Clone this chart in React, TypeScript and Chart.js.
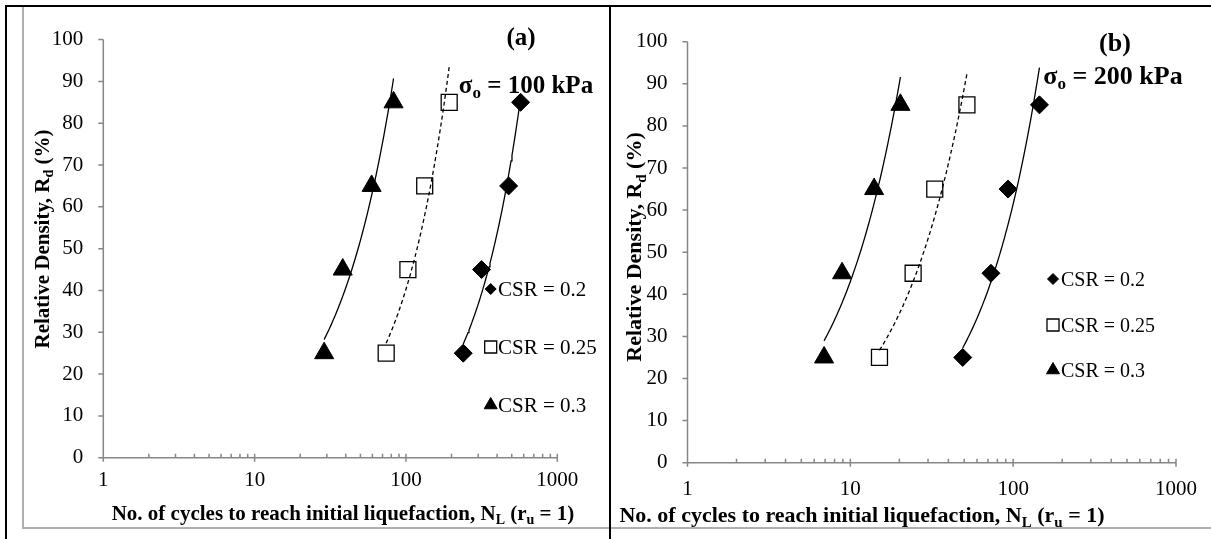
import React, { useEffect, useRef } from 'react';
import { Chart, registerables } from 'chart.js';
import { drawPoint } from 'chart.js/helpers';

Chart.register(...registerables);

// Relative density levels tested (%)
const relativeDensity = [25, 45, 65, 85];

// Panel (a), σo = 100 kPa : number of cycles to initial liquefaction N_L
const panelA_csr020 = [239, 316, 477, 572];
const panelA_csr025 = [74, 103, 133, 193];
const panelA_csr030 = [28.8, 38.2, 59.3, 82.8];

// Panel (b), σo = 200 kPa
const panelB_csr020 = [49, 73, 93, 145];
const panelB_csr025 = [15.1, 24.3, 33, 52];
const panelB_csr030 = [6.9, 8.9, 14, 20.3];

const seriesLabels = ['CSR = 0.2', 'CSR = 0.25', 'CSR = 0.3'];
const xMajorTicks = [1, 10, 100, 1000];
const yTickValues = [0, 10, 20, 30, 40, 50, 60, 70, 80, 90, 100];
const panelTags = ['(a)', '(b)'];
const panelStress = ['100 kPa', '200 kPa'];

const FONT = '"Liberation Serif", "Times New Roman", Times, serif';
const AXIS_COLOR = '#878787';

type Part = { t: string; sub?: boolean };

const xTitleParts: Part[] = [
  { t: 'No. of cycles to reach initial liquefaction, N' },
  { t: 'L', sub: true },
  { t: ' (r' },
  { t: 'u', sub: true },
  { t: ' = 1)' },
];
const yTitleParts: Part[] = [
  { t: 'Relative Density, R' },
  { t: 'd', sub: true },
  { t: ' (%)' },
];

function partFont(size: number, bold: boolean, sub?: boolean) {
  return `${bold ? 'bold ' : ''}${sub ? Math.round(size * 0.66) : size}px ${FONT}`;
}
function measureRich(ctx: CanvasRenderingContext2D, parts: Part[], size: number, bold: boolean) {
  let w = 0;
  for (const p of parts) {
    ctx.font = partFont(size, bold, p.sub);
    w += ctx.measureText(p.t).width;
  }
  return w;
}
function drawRich(
  ctx: CanvasRenderingContext2D,
  parts: Part[],
  x: number,
  cy: number,
  size: number,
  bold: boolean,
  align: 'center' | 'left'
) {
  const w = measureRich(ctx, parts, size, bold);
  let cx = align === 'center' ? x - w / 2 : x;
  const base = cy + size * 0.33;
  ctx.textBaseline = 'alphabetic';
  ctx.textAlign = 'left';
  for (const p of parts) {
    ctx.font = partFont(size, bold, p.sub);
    ctx.fillText(p.t, cx, p.sub ? base + size * 0.2 : base);
    cx += ctx.measureText(p.t).width;
  }
}

// Excel-style power trendline (least squares on ln y vs ln x), over the data's x range
function powerTrend(xs: number[], ys: number[]) {
  const n = xs.length;
  const lx = xs.map(Math.log);
  const ly = ys.map(Math.log);
  const mx = lx.reduce((a, b) => a + b, 0) / n;
  const my = ly.reduce((a, b) => a + b, 0) / n;
  let sxy = 0;
  let sxx = 0;
  for (let i = 0; i < n; i++) {
    sxy += (lx[i] - mx) * (ly[i] - my);
    sxx += (lx[i] - mx) * (lx[i] - mx);
  }
  const b = sxy / sxx;
  const a = Math.exp(my - b * mx);
  const l0 = Math.log(Math.min(...xs));
  const l1 = Math.log(Math.max(...xs));
  const pts: { x: number; y: number }[] = [];
  const steps = 60;
  for (let i = 0; i <= steps; i++) {
    const x = Math.exp(l0 + ((l1 - l0) * i) / steps);
    pts.push({ x, y: a * Math.pow(x, b) });
  }
  return pts;
}

interface PanelCfg {
  left: number;
  top: number;
  w: number;
  h: number;
  plotLeft: number;
  plotRight: number;
  plotTop: number;
  plotBottom: number;
  series: number[][];
  tag: string;
  stress: string;
  tickSize: number;
  tickPadX: number;
  titleSize: number;
  xTitle: [number, number];
  yTitle: [number, number];
  tagPos: [number, number];
  sigmaPos: [number, number];
  annSize: number;
  legendX: number;
  legendTextX: number;
  legendYs: number[];
  legendSize: number;
}

const markerStyles = [
  { pointStyle: 'rectRot', radius: 9, bg: '#000', border: '#000', bw: 1, lRadius: 5.5 },
  { pointStyle: 'rect', radius: 11.3, bg: '#fff', border: '#000', bw: 1.3, lRadius: 8.5 },
  { pointStyle: 'triangle', radius: 11, bg: '#000', border: '#000', bw: 1, lRadius: 7.5 },
];
const trendDash = [[], [4, 3], []];

const panelA: PanelCfg = {
  left: 24, top: 7, w: 585, h: 520,
  plotLeft: 79.3, plotRight: 533.3, plotTop: 27, plotBottom: 450.7,
  series: [panelA_csr020, panelA_csr025, panelA_csr030],
  tag: panelTags[0], stress: panelStress[0],
  tickSize: 21, tickPadX: 10.5, titleSize: 21,
  xTitle: [319, 506], yTitle: [18, 232],
  tagPos: [497, 30], sigmaPos: [502, 78], annSize: 25,
  legendX: 466.7, legendTextX: 474, legendYs: [282, 340, 398], legendSize: 21,
};

const panelB: PanelCfg = {
  left: 611, top: 7, w: 600, h: 520,
  plotLeft: 76.5, plotRight: 570, plotTop: 34.7, plotBottom: 455.7,
  series: [panelB_csr020, panelB_csr025, panelB_csr030],
  tag: panelTags[1], stress: panelStress[1],
  tickSize: 21, tickPadX: 14, titleSize: 22,
  xTitle: [251, 508], yTitle: [23, 240],
  tagPos: [504, 35], sigmaPos: [502, 68], annSize: 26,
  legendX: 442, legendTextX: 450, legendYs: [272, 318, 363], legendSize: 20,
};

function makeDecor(cfg: PanelCfg) {
  return {
    id: 'panelDecor',
    afterDraw(chart: any) {
      const ctx: CanvasRenderingContext2D = chart.ctx;
      const { left, right, top, bottom } = chart.chartArea;
      const xs = chart.scales.x;
      const ys = chart.scales.y;
      ctx.save();
      // axes
      ctx.strokeStyle = AXIS_COLOR;
      ctx.lineWidth = 1.5;
      ctx.beginPath();
      ctx.moveTo(left, top);
      ctx.lineTo(left, bottom);
      ctx.moveTo(left, bottom);
      ctx.lineTo(right, bottom);
      for (const v of yTickValues) {
        const py = ys.getPixelForValue(v);
        ctx.moveTo(left - 5, py);
        ctx.lineTo(left, py);
      }
      for (let d = 0; d < xMajorTicks.length; d++) {
        const dec = xMajorTicks[d];
        const px = xs.getPixelForValue(dec);
        ctx.moveTo(px, bottom - 4);
        ctx.lineTo(px, bottom + 4);
        if (d < xMajorTicks.length - 1) {
          for (let k = 2; k <= 9; k++) {
            const mx = xs.getPixelForValue(dec * k);
            ctx.moveTo(mx, bottom - 4);
            ctx.lineTo(mx, bottom);
          }
        }
      }
      ctx.stroke();

      ctx.fillStyle = '#000';
      // axis titles
      drawRich(ctx, xTitleParts, cfg.xTitle[0], cfg.xTitle[1], cfg.titleSize, true, 'center');
      ctx.save();
      ctx.translate(cfg.yTitle[0], cfg.yTitle[1]);
      ctx.rotate(-Math.PI / 2);
      drawRich(ctx, yTitleParts, 0, 0, cfg.titleSize, true, 'center');
      ctx.restore();

      // annotations
      drawRich(ctx, [{ t: cfg.tag }], cfg.tagPos[0], cfg.tagPos[1], cfg.annSize, true, 'center');
      drawRich(
        ctx,
        [{ t: 'σ' }, { t: 'o', sub: true }, { t: ' = ' + cfg.stress }],
        cfg.sigmaPos[0],
        cfg.sigmaPos[1],
        cfg.annSize,
        true,
        'center'
      );

      // legend (marker series only)
      for (let i = 0; i < 3; i++) {
        const ds = chart.data.datasets[3 + i];
        const st = markerStyles[i];
        ctx.fillStyle = st.bg;
        ctx.strokeStyle = st.border;
        ctx.lineWidth = st.bw;
        drawPoint(
          ctx,
          { pointStyle: st.pointStyle as any, radius: st.lRadius, rotation: 0, borderWidth: st.bw },
          cfg.legendX,
          cfg.legendYs[i]
        );
        ctx.fillStyle = '#000';
        drawRich(ctx, [{ t: ds.label }], cfg.legendTextX, cfg.legendYs[i], cfg.legendSize, false, 'left');
      }
      ctx.restore();
    },
  };
}

function buildConfig(cfg: PanelCfg): any {
  const trendSets = cfg.series.map((ns, i) => ({
    label: 'trend ' + seriesLabels[i],
    data: powerTrend(ns, relativeDensity),
    showLine: true,
    borderColor: '#000',
    borderWidth: 1.3,
    borderDash: trendDash[i],
    pointRadius: 0,
    pointHoverRadius: 0,
    fill: false,
    tension: 0,
  }));
  const markerSets = cfg.series.map((ns, i) => ({
    label: seriesLabels[i],
    data: ns.map((n, j) => ({ x: n, y: relativeDensity[j] })),
    showLine: false,
    pointStyle: markerStyles[i].pointStyle,
    pointRadius: markerStyles[i].radius,
    pointHoverRadius: markerStyles[i].radius,
    pointBackgroundColor: markerStyles[i].bg,
    pointBorderColor: markerStyles[i].border,
    pointBorderWidth: markerStyles[i].bw,
  }));
  return {
    type: 'scatter',
    data: { datasets: [...trendSets, ...markerSets] },
    options: {
      animation: false,
      responsive: false,
      devicePixelRatio: 1,
      events: [],
      layout: {
        padding: { left: 0, top: cfg.plotTop, right: cfg.w - cfg.plotRight, bottom: 0 },
      },
      plugins: {
        legend: { display: false },
        tooltip: { enabled: false },
        title: { display: false },
      },
      scales: {
        x: {
          type: 'logarithmic',
          min: 1,
          max: 1000,
          position: 'bottom',
          afterBuildTicks: (s: any) => {
            s.ticks = xMajorTicks.map((v) => ({ value: v }));
          },
          afterFit: (s: any) => {
            s.height = cfg.h - cfg.plotBottom;
          },
          grid: { display: false, drawTicks: false },
          border: { display: false },
          ticks: {
            autoSkip: false,
            maxRotation: 0,
            padding: cfg.tickPadX,
            color: '#000',
            font: { family: FONT, size: cfg.tickSize },
            callback: (v: any) => String(v),
          },
        },
        y: {
          type: 'linear',
          min: 0,
          max: 100,
          position: 'left',
          afterBuildTicks: (s: any) => {
            s.ticks = yTickValues.map((v) => ({ value: v }));
          },
          afterFit: (s: any) => {
            s.width = cfg.plotLeft;
          },
          grid: { display: false, drawTicks: false },
          border: { display: false },
          ticks: {
            autoSkip: false,
            padding: 20,
            color: '#000',
            font: { family: FONT, size: cfg.tickSize },
            callback: (v: any) => String(v),
          },
        },
      },
    },
    plugins: [makeDecor(cfg)],
  };
}

function Panel({ cfg }: { cfg: PanelCfg }) {
  const ref = useRef<HTMLCanvasElement>(null);
  useEffect(() => {
    if (!ref.current) return;
    const chart = new Chart(ref.current, buildConfig(cfg));
    return () => chart.destroy();
  }, [cfg]);
  return (
    <canvas
      ref={ref}
      width={cfg.w}
      height={cfg.h}
      style={{ position: 'absolute', left: cfg.left, top: cfg.top, width: cfg.w, height: cfg.h }}
    />
  );
}

const line = (l: number, t: number, w: number, h: number, c: string) => (
  <div style={{ position: 'absolute', left: l, top: t, width: w, height: h, background: c }} />
);

export default function App() {
  return (
    <div
      style={{
        position: 'absolute',
        left: 0,
        top: 0,
        width: 1211,
        height: 539,
        background: '#fff',
        overflow: 'hidden',
      }}
    >
      <Panel cfg={panelA} />
      <Panel cfg={panelB} />
      {line(22, 7, 2, 521, '#b0b0b0')}
      {line(22, 527, 1189, 2, '#b0b0b0')}
      {line(5, 5, 1206, 2, '#000')}
      {line(5, 5, 2, 534, '#000')}
      {line(609, 5, 2, 534, '#000')}
    </div>
  );
}
